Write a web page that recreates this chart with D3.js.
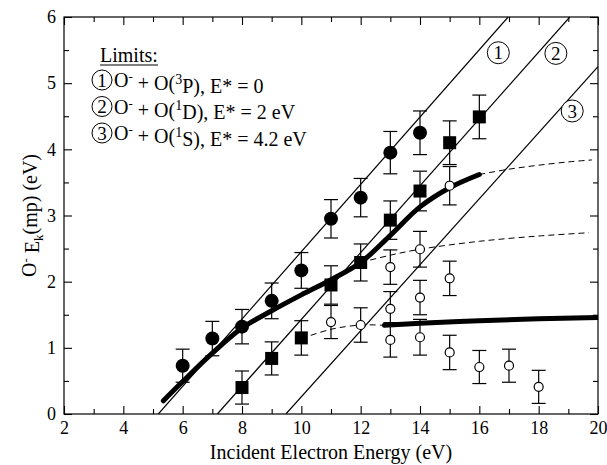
<!DOCTYPE html>
<html>
<head>
<meta charset="utf-8">
<script src="https://cdn.jsdelivr.net/npm/d3@7"></script>
<style>
  body { margin: 0; background: #fff; }
</style>
</head>
<body>
<div id="chart"></div>
<script>
// values
var circleX = [6, 7, 8, 9, 10, 11, 12, 13, 14];
var circleY = [0.73, 1.14, 1.32, 1.71, 2.17, 2.95, 3.27, 3.95, 4.25];
var circleErr = [0.25, 0.26, 0.26, 0.27, 0.27, 0.29, 0.29, 0.32, 0.33];

var squareX = [8, 9, 10, 11, 12, 13, 14, 15, 16];
var squareY = [0.40, 0.84, 1.15, 1.95, 2.29, 2.93, 3.37, 4.10, 4.49];
var squareErr = [0.25, 0.25, 0.26, 0.29, 0.28, 0.29, 0.30, 0.33, 0.33];

var openX = [11, 12, 13, 13, 13, 14, 14, 14, 15, 15, 15, 16, 17, 18];
var openY = [1.39, 1.345, 2.22, 1.59, 1.12, 2.49, 1.76, 1.16, 3.45, 2.05, 0.93, 0.71, 0.73, 0.41];
var openErr = [0.25, 0.26, 0.26, 0.26, 0.26, 0.27, 0.26, 0.27, 0.29, 0.26, 0.26, 0.25, 0.25, 0.25];

// thick model curves
var upperFitX = [5.35, 6, 7, 8, 9, 10, 11, 12, 13, 14, 15, 16];
var upperFitY = [0.20, 0.49, 0.92, 1.30, 1.56, 1.80, 2.03, 2.29, 2.70, 3.13, 3.42, 3.62];
var lowerFitX = [12.8, 14, 16, 18, 20];
var lowerFitY = [1.34, 1.37, 1.41, 1.44, 1.46];

// dashed extensions
var upperDashX = [16, 17, 18, 19, 19.8];
var upperDashY = [3.62, 3.70, 3.76, 3.81, 3.84];
var midDashX = [12, 13, 14, 16, 18, 19.7];
var midDashY = [2.29, 2.40, 2.49, 2.61, 2.69, 2.74];
var lowDashX = [10, 11, 12, 12.8];
var lowDashY = [1.14, 1.28, 1.345, 1.34];

// limit lines (start and end points)
var limitNames = ["1", "2", "3"];
var limitX0 = [5.18, 7.17, 9.48];
var limitX1 = [16.97, 19.05, 20];
var limitY1 = [6, 6, 5.25];
var limitTagX = [16.64, 18.58, 19.13];
var limitTagY = [5.46, 5.45, 4.58];

var legendState = ["3", "1", "1"];
var legendTerm = ["P", "D", "S"];
var legendEnergy = ["0", "2 eV", "4.2 eV"];

var xTicks = [2, 4, 6, 8, 10, 12, 14, 16, 18, 20];
var xMinor = [3, 5, 7, 9, 11, 13, 15, 17, 19];
var yTicks = [0, 1, 2, 3, 4, 5, 6];
var yMinor = [0.5, 1.5, 2.5, 3.5, 4.5, 5.5];

var fontName = "Liberation Serif";
var k = 2;  // text is set at k times its size and scaled back down
var w = 607, h = 465;
var margin = {top: 17, right: 9, bottom: 51, left: 64};

var x = d3.scaleLinear().domain([2, 20]).range([margin.left, w - margin.right]);
var y = d3.scaleLinear().domain([0, 6]).range([h - margin.bottom, margin.top]);

var svg = d3.select("#chart").append("svg")
    .attr("width", w)
    .attr("height", h);

// serif text placed at (tx, ty), drawn large and scaled
function label(parent, tx, ty, size, extra) {
    var g = parent.append("g")
        .attr("transform", "translate(" + tx + "," + ty + ")" + (extra || "") + " scale(" + (1 / k) + ")");
    return g.append("text")
        .style("font-family", fontName)
        .attr("font-size", size * k)
        .attr("fill", "#000");
}

svg.append("clipPath").attr("id", "plotclip")
  .append("rect")
    .attr("x", x(2)).attr("y", y(6))
    .attr("width", x(20) - x(2)).attr("height", y(0) - y(6));

// axes, ticks pointing inward
function styleAxis(g) {
    g.attr("font-family", null).attr("font-size", null);
    g.selectAll(".domain").remove();
    g.selectAll("line").attr("stroke", "#000").attr("stroke-width", 1.1);
    g.selectAll("text").each(function() {
        var t = d3.select(this);
        var tx = +t.attr("x") || 0, ty = +t.attr("y") || 0;
        t.attr("x", tx * k).attr("y", ty * k)
            .attr("transform", "scale(" + (1 / k) + ")")
            .attr("fill", "#000")
            .style("font-family", fontName)
            .attr("font-size", 18 * k);
    });
}

svg.append("g").attr("transform", "translate(0," + y(0) + ")")
    .call(d3.axisBottom(x).tickValues(xTicks).tickSize(-8).tickPadding(7).tickFormat(d3.format("d")))
    .call(styleAxis);
svg.append("g").attr("transform", "translate(0," + y(0) + ")")
    .call(d3.axisBottom(x).tickValues(xMinor).tickSize(-5).tickFormat(""))
    .call(styleAxis);
svg.append("g").attr("transform", "translate(0," + y(6) + ")")
    .call(d3.axisTop(x).tickValues(xTicks).tickSize(-8).tickFormat(""))
    .call(styleAxis);
svg.append("g").attr("transform", "translate(0," + y(6) + ")")
    .call(d3.axisTop(x).tickValues(xMinor).tickSize(-5).tickFormat(""))
    .call(styleAxis);

svg.append("g").attr("transform", "translate(" + x(2) + ",0)")
    .call(d3.axisLeft(y).tickValues(yTicks).tickSize(-8).tickPadding(8).tickFormat(d3.format("d")))
    .call(styleAxis);
svg.append("g").attr("transform", "translate(" + x(2) + ",0)")
    .call(d3.axisLeft(y).tickValues(yMinor).tickSize(-5).tickFormat(""))
    .call(styleAxis);
svg.append("g").attr("transform", "translate(" + x(20) + ",0)")
    .call(d3.axisRight(y).tickValues(yTicks).tickSize(-8).tickFormat(""))
    .call(styleAxis);
svg.append("g").attr("transform", "translate(" + x(20) + ",0)")
    .call(d3.axisRight(y).tickValues(yMinor).tickSize(-5).tickFormat(""))
    .call(styleAxis);

// frame
svg.append("rect")
    .attr("x", x(2)).attr("y", y(6))
    .attr("width", x(20) - x(2)).attr("height", y(0) - y(6))
    .attr("fill", "none").attr("stroke", "#000").attr("stroke-width", 1.2);

var plot = svg.append("g").attr("clip-path", "url(#plotclip)");

// limit lines
limitNames.forEach(function(n, i) {
    plot.append("line")
        .attr("x1", x(limitX0[i])).attr("y1", y(0))
        .attr("x2", x(limitX1[i])).attr("y2", y(limitY1[i]))
        .attr("stroke", "#000").attr("stroke-width", 1.2);
});

var line = d3.line()
    .x(function(d) { return x(d[0]); })
    .y(function(d) { return y(d[1]); })
    .curve(d3.curveCatmullRom.alpha(0.5));

function pairs(xs, ys) { return xs.map(function(v, i) { return [v, ys[i]]; }); }

[[upperDashX, upperDashY], [midDashX, midDashY], [lowDashX, lowDashY]].forEach(function(s) {
    plot.append("path")
        .datum(pairs(s[0], s[1]))
        .attr("d", line)
        .attr("fill", "none").attr("stroke", "#000")
        .attr("stroke-width", 1).attr("stroke-dasharray", "6,4");
});

[[upperFitX, upperFitY], [lowerFitX, lowerFitY]].forEach(function(s) {
    plot.append("path")
        .datum(pairs(s[0], s[1]))
        .attr("d", line)
        .attr("fill", "none").attr("stroke", "#000")
        .attr("stroke-width", 5).attr("stroke-linecap", "round");
});

// error bars
function errorBars(xs, ys, es) {
    var g = plot.append("g").attr("stroke", "#000").attr("stroke-width", 1.2);
    xs.forEach(function(v, i) {
        var cx = x(v), top = y(ys[i] + es[i]), bot = y(ys[i] - es[i]);
        g.append("line").attr("x1", cx).attr("x2", cx).attr("y1", top).attr("y2", bot);
        g.append("line").attr("x1", cx - 7).attr("x2", cx + 7).attr("y1", top).attr("y2", top);
        g.append("line").attr("x1", cx - 7).attr("x2", cx + 7).attr("y1", bot).attr("y2", bot);
    });
}
errorBars(openX, openY, openErr);
errorBars(squareX, squareY, squareErr);
errorBars(circleX, circleY, circleErr);

plot.append("g").selectAll("circle")
    .data(pairs(openX, openY))
    .enter().append("circle")
    .attr("cx", function(d) { return x(d[0]); })
    .attr("cy", function(d) { return y(d[1]); })
    .attr("r", 4.5)
    .attr("fill", "#fff").attr("stroke", "#000").attr("stroke-width", 1.2);

plot.append("g").selectAll("rect")
    .data(pairs(squareX, squareY))
    .enter().append("rect")
    .attr("x", function(d) { return x(d[0]) - 6.5; })
    .attr("y", function(d) { return y(d[1]) - 6.5; })
    .attr("width", 13).attr("height", 13)
    .attr("fill", "#000");

plot.append("g").selectAll("circle")
    .data(pairs(circleX, circleY))
    .enter().append("circle")
    .attr("cx", function(d) { return x(d[0]); })
    .attr("cy", function(d) { return y(d[1]); })
    .attr("r", 7)
    .attr("fill", "#000");

// circled tags on the limit lines
limitNames.forEach(function(n, i) {
    var cx = x(limitTagX[i]), cy = y(limitTagY[i]);
    svg.append("circle").attr("cx", cx).attr("cy", cy).attr("r", 11)
        .attr("fill", "#fff").attr("stroke", "#000").attr("stroke-width", 1);
    label(svg, cx, cy, 19).attr("text-anchor", "middle").attr("dy", "0.35em").text(n);
});

// legend
var leg = svg.append("g");
label(leg, 100, 62, 20).text("Limits:");
leg.append("line").attr("x1", 100).attr("x2", 158).attr("y1", 65).attr("y2", 65)
    .attr("stroke", "#000").attr("stroke-width", 1);

limitNames.forEach(function(n, i) {
    var cy = 80 + i * 26.5;
    leg.append("circle").attr("cx", 102).attr("cy", cy).attr("r", 10)
        .attr("fill", "none").attr("stroke", "#000").attr("stroke-width", 1);
    label(leg, 102, cy, 19).attr("text-anchor", "middle").attr("dy", "0.35em").text(n);
    var t = label(leg, 114, cy, 20).attr("dy", "0.35em");
    t.append("tspan").text("O");
    t.append("tspan").attr("dy", "-0.45em").attr("font-size", 13 * k).text("-");
    t.append("tspan").attr("dy", "0.45em").text(" + O(");
    t.append("tspan").attr("dy", "-0.45em").attr("font-size", 14 * k).text(legendState[i]);
    t.append("tspan").attr("dy", "0.45em").text(legendTerm[i] + "), E* = " + legendEnergy[i]);
});

// axis titles
label(svg, (x(2) + x(20)) / 2, 459, 20)
    .attr("text-anchor", "middle")
    .text("Incident Electron Energy (eV)");

var yt = label(svg, 36, (y(0) + y(6)) / 2, 20, " rotate(-90)").attr("text-anchor", "middle");
yt.append("tspan").text("O");
yt.append("tspan").attr("dy", "-0.45em").attr("font-size", 13 * k).text("-");
yt.append("tspan").attr("dy", "0.45em").text(" E");
yt.append("tspan").attr("dy", "0.3em").attr("font-size", 13 * k).text("k");
yt.append("tspan").attr("dy", "-0.3em").text("(mp) (eV)");
</script>
</body>
</html>
